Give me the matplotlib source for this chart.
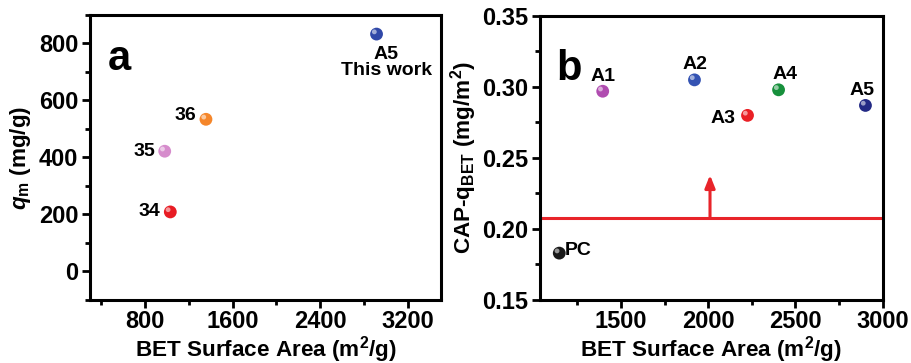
import matplotlib
matplotlib.use("Agg")
import matplotlib.pyplot as plt
import matplotlib.transforms as mtransforms
from matplotlib.ticker import MultipleLocator, FormatStrFormatter

plt.rcParams["font.family"] = ["Liberation Sans", "DejaVu Sans"]
plt.rcParams["font.weight"] = "bold"
plt.rcParams["mathtext.fontset"] = "custom"
plt.rcParams["mathtext.rm"] = "Liberation Sans:bold"
plt.rcParams["mathtext.it"] = "Liberation Sans:bold:italic"
plt.rcParams["mathtext.bf"] = "Liberation Sans:bold"

# Panel a: maximum adsorption capacity vs. BET surface area
a_labels = ["A5\nThis work", "36", "35", "34"]
a_bet = [2912, 1357, 981, 1032]
a_qm = [833, 534, 422, 209]
a_colors = ["#3048a8", "#f5862a", "#d68ccc", "#e81c24"]

# Panel b: capacity per unit surface area
b_labels = ["A1", "A2", "A3", "A4", "A5", "PC"]
b_bet = [1395, 1921, 2225, 2403, 2901, 1146]
b_cap = [0.297, 0.305, 0.280, 0.298, 0.287, 0.183]
b_colors = ["#b04cb0", "#3453b3", "#ea2026", "#17903c", "#232a85", "#1a1a1a"]

threshold = 0.208
arrow_x = 2010
arrow_top = 0.238

fig = plt.figure(figsize=(9.12, 3.63), dpi=100)
ax1 = fig.add_axes([0.0987, 0.1736, 0.3849, 0.7851])
ax2 = fig.add_axes([0.592, 0.1736, 0.3759, 0.7824])

TICK_FS = 17
LABEL_FS = 16.2
POINT_FS = 14


def spheres(ax, xs, ys, colors):
    ax.scatter(xs, ys, s=85, c=colors, edgecolors="none", zorder=3)
    shift = mtransforms.ScaledTranslation(-1.6 / 72, 1.6 / 72, fig.dpi_scale_trans)
    ax.scatter(xs, ys, s=12, c="white", alpha=0.55, edgecolors="none",
               zorder=4, transform=ax.transData + shift)


def style(ax):
    for sp in ax.spines.values():
        sp.set_linewidth(2.2)
    ax.tick_params(which="major", direction="out", length=6, width=2,
                   labelsize=TICK_FS, top=False, right=False, pad=2.5)
    ax.tick_params(axis="x", which="major", pad=1.5)
    ax.tick_params(which="minor", direction="out", length=3.5, width=2,
                   top=False, right=False)
    for t in ax.get_xticklabels() + ax.get_yticklabels():
        t.set_fontweight("bold")


def xlabel(ax, text):
    # place the x label explicitly by its baseline so it sits inside the figure
    ax.set_xlabel(text, fontsize=LABEL_FS, fontweight="bold")
    ax.xaxis.label.set_verticalalignment("baseline")
    ax.xaxis.set_label_coords(0.5, -0.2)


# ---- panel a ----
ax1.set_xlim(300, 3500)
ax1.set_ylim(-100, 900)
ax1.xaxis.set_major_locator(MultipleLocator(800))
ax1.xaxis.set_minor_locator(MultipleLocator(400))
ax1.yaxis.set_major_locator(MultipleLocator(200))
ax1.yaxis.set_minor_locator(MultipleLocator(100))
spheres(ax1, a_bet, a_qm, a_colors)
ax1.text(3000, 792, a_labels[0], ha="center", va="top", fontsize=POINT_FS,
         fontweight="bold", linespacing=0.95)
for lab, x, y in zip(a_labels[1:], a_bet[1:], a_qm[1:]):
    ax1.text(x - 90, y + (12 if lab == "36" else 0), lab, ha="right",
             va="center", fontsize=POINT_FS, fontweight="bold")
ax1.text(0.05, 0.807, "a", transform=ax1.transAxes, fontsize=30,
         fontweight="bold", ha="left", va="baseline")
xlabel(ax1, r"BET Surface Area (m$^\mathrm{2}$/g)")
ax1.set_ylabel(r"$q_\mathrm{m}$ (mg/g)", fontsize=LABEL_FS, fontweight="bold",
               labelpad=4)
style(ax1)

# ---- panel b ----
ax2.set_xlim(1035, 3000)
ax2.set_ylim(0.15, 0.35)
ax2.xaxis.set_major_locator(MultipleLocator(500))
ax2.xaxis.set_minor_locator(MultipleLocator(250))
ax2.yaxis.set_major_locator(MultipleLocator(0.05))
ax2.yaxis.set_minor_locator(MultipleLocator(0.025))
ax2.yaxis.set_major_formatter(FormatStrFormatter("%.2f"))
ax2.axhline(threshold, color="#e8242a", lw=2.2, zorder=2)
ax2.annotate("", xy=(arrow_x, arrow_top), xytext=(arrow_x, threshold),
             arrowprops=dict(arrowstyle="-|>,head_length=0.75,head_width=0.3",
                             color="#e8242a", lw=2.2, shrinkA=0, shrinkB=0))
spheres(ax2, b_bet, b_cap, b_colors)
for lab, x, y in zip(b_labels, b_bet, b_cap):
    if lab == "A3":
        ax2.text(x - 70, y - 0.0025, lab, ha="right", va="center",
                 fontsize=POINT_FS, fontweight="bold")
    elif lab == "PC":
        ax2.text(x + 30, y + 0.0015, lab, ha="left", va="center",
                 fontsize=POINT_FS, fontweight="bold")
    else:
        ax2.text(x - (20 if lab == "A5" else 0) + (35 if lab == "A4" else 0),
                 y + 0.0045, lab, ha="center", va="bottom", fontsize=POINT_FS,
                 fontweight="bold")
ax2.text(0.049, 0.775, "b", transform=ax2.transAxes, fontsize=30,
         fontweight="bold", ha="left", va="baseline")
xlabel(ax2, r"BET Surface Area (m$^\mathrm{2}$/g)")
ax2.set_ylabel(r"CAP-q$_\mathrm{BET}$ (mg/m$^\mathrm{2}$)", fontsize=LABEL_FS,
               fontweight="bold", labelpad=2)
style(ax2)

fig.savefig("out.png", dpi=100)
